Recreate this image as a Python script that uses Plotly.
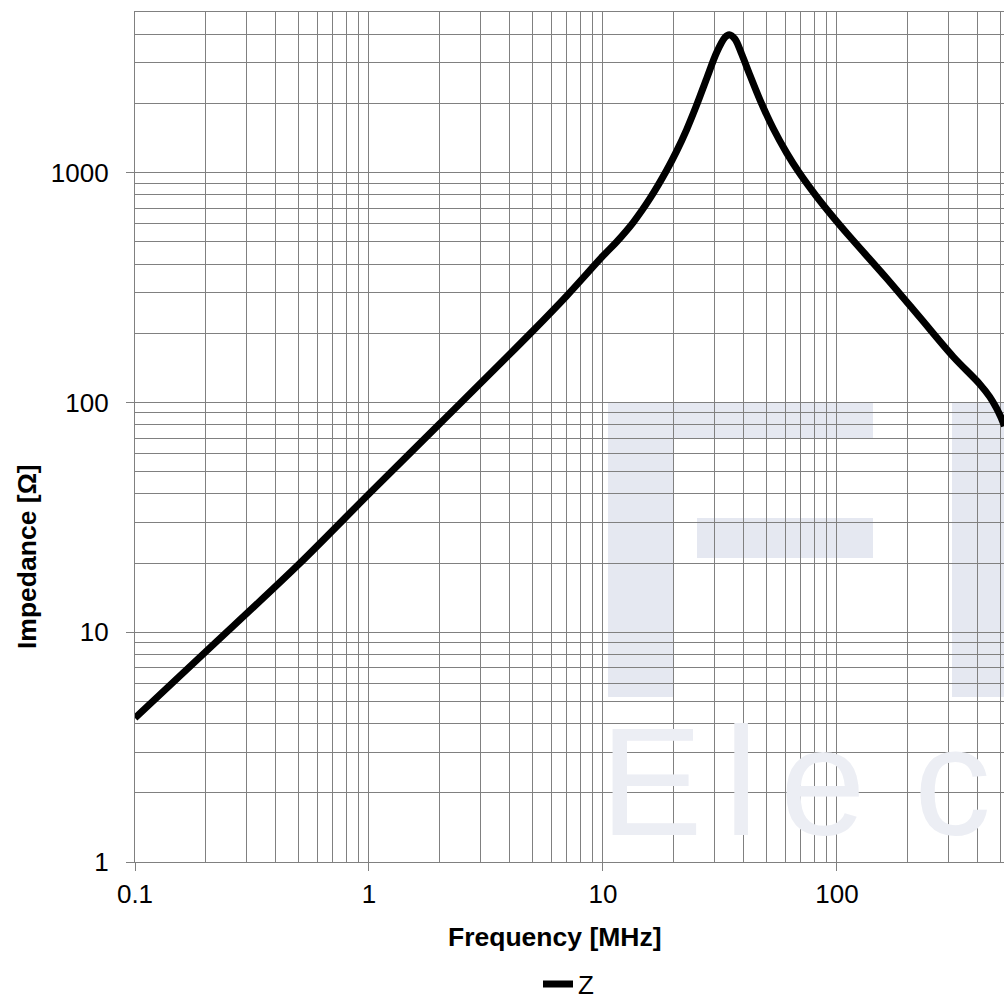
import plotly.graph_objects as go

# Data
freq_mhz = [0.1, 0.2, 0.5, 1, 2, 5, 7, 10, 11.44, 13.48, 15.88, 18.72, 20.65, 22.79,
            25.14, 27.75, 30.61, 33.22, 34.65, 36.66, 39.15, 42.49, 46.88, 53.43,
            60.95, 68.8, 81.9, 96.4, 113.6, 163, 226, 314, 408, 450, 480, 500, 520]
impedance = [4.23, 8.2, 19.7, 40, 80.5, 204, 291, 434, 500, 608, 772, 1024, 1240, 1540,
             1968, 2569, 3332, 3876, 3981, 3814, 3282, 2654, 2075, 1556,
             1219, 1004, 787, 640, 526, 347, 234.5, 158, 120, 105.7, 94.7, 87, 79]
series_name = "Z"

x_tickvals = [0.1, 1, 10, 100]
x_ticktext = ["0.1", "1", "10", "100"]
y_tickvals = [1, 10, 100, 1000]
y_ticktext = ["1", "10", "100", "1000"]

x_title = "Frequency [MHz]"
y_title = "Impedance [Ω]"
watermark_letters = ["E", "l", "e", "c"]

GRID = "#808080"
WM = "#e5e8f1"
WM_TEXT = "#eceef4"
FONT = "Liberation Sans, Arial, sans-serif"

fig = go.Figure()
fig.add_trace(go.Scatter(
    x=freq_mhz, y=impedance, mode="lines", name=series_name,
    line=dict(color="black", width=7, shape="spline", smoothing=0.9),
    showlegend=True,
))

# layout helpers (paper coordinates of the plot area)
L, W, B, H = 135, 869, 862, 850
def xp(px):
    return (px - L) / W
def yp(py):
    return (B - py) / H

# faint watermark
wm_rects = [
    (608, 402, 673, 697),
    (608, 402, 873, 438),
    (697, 518, 873, 558),
    (952, 402, 1010, 697),
    (952, 402, 1010, 438),
]
shapes = []
for x0, y0, x1, y1 in wm_rects:
    shapes.append(dict(type="rect", xref="paper", yref="paper",
                       x0=xp(x0), x1=xp(x1), y0=yp(y1), y1=yp(y0),
                       fillcolor=WM, line=dict(width=0), layer="below"))

annotations = []
for letter, lx in zip(watermark_letters, [598, 722, 778, 912]):
    annotations.append(dict(text=letter, xref="paper", yref="paper", x=xp(lx),
                            y=yp(782), xanchor="left", yanchor="middle",
                            showarrow=False,
                            font=dict(family=FONT, size=154, color=WM_TEXT)))

annotations += [
    dict(text="<b>" + x_title + "</b>", xref="paper", yref="paper",
         x=xp(555), y=yp(937), xanchor="center", yanchor="middle",
         showarrow=False, font=dict(family=FONT, size=26.5, color="black")),
    dict(text="<b>" + y_title + "</b>", xref="paper", yref="paper",
         x=xp(27), y=yp(557), xanchor="center", yanchor="middle",
         textangle=-90, showarrow=False,
         font=dict(family=FONT, size=26.5, color="black")),
]

axis_common = dict(
    type="log", showgrid=True, gridcolor=GRID, gridwidth=1.2,
    ticks="outside", ticklen=8, tickcolor=GRID, tickwidth=1.2,
    showline=True, linecolor=GRID, linewidth=1.2,
    zeroline=False, tickfont=dict(family=FONT, size=26, color="black"),
    minor=dict(dtick="D1", showgrid=True, gridcolor=GRID, gridwidth=1.2, ticks=""),
)

fig.update_xaxes(axis_common, range=[-1, 2.714], tickvals=x_tickvals,
                 ticktext=x_ticktext, mirror=True, ticklabelstandoff=1)
fig.update_yaxes(axis_common, range=[0, 3.699], tickvals=y_tickvals,
                 ticktext=y_ticktext, ticklabelstandoff=12)

fig.update_layout(
    width=1004, height=1000,
    margin=dict(l=L, r=0, t=12, b=1000 - B, autoexpand=False),
    paper_bgcolor="white", plot_bgcolor="rgba(0,0,0,0)",
    shapes=shapes, annotations=annotations,
    showlegend=True,
    legend=dict(orientation="h", x=xp(538), y=yp(984), xanchor="left",
                yanchor="middle", font=dict(family=FONT, size=26, color="black"),
                bgcolor="rgba(0,0,0,0)", itemwidth=30, tracegroupgap=0),
    font=dict(family=FONT),
)

fig.write_html(
    "out.html",
    config={"displayModeBar": False},
    post_script="document.body.style.margin='0';document.body.style.padding='0';"
                "document.body.style.overflow='hidden';",
)
